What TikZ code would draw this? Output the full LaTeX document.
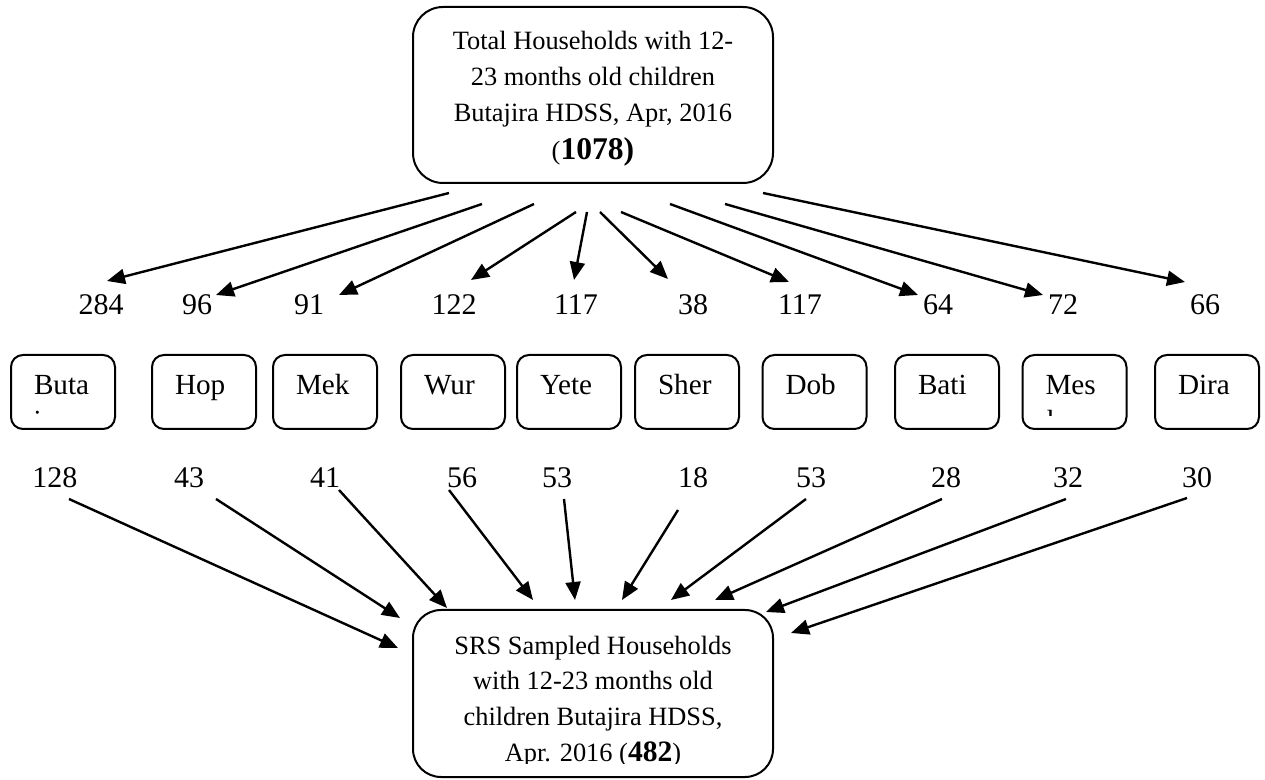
\documentclass[tikz,border=0pt]{standalone}
\usepackage{fontspec}
\setmainfont{Liberation Serif}
\usetikzlibrary{arrows.meta}

\tikzset{
  total/.style={draw, line width=1pt, rounded corners=15pt, minimum width=180pt},
  totaltext/.style={anchor=base, align=center, inner sep=0pt, font=\fontsize{13.2}{18}\selectfont},
  region/.style={draw, line width=1pt, rounded corners=6pt, minimum width=52pt, minimum height=37pt, inner xsep=11.5pt, inner ysep=0pt, text width=29pt, align=left, text height=20pt, text depth=17pt, font=\fontsize{14.6}{18}\selectfont},
  rest/.style={anchor=base west, inner sep=0pt, font=\fontsize{14.6}{18}\selectfont},
  count/.style={anchor=base, inner sep=0pt, font=\fontsize{15}{18}\selectfont},
  flow/.style={line width=1.2pt, -{Triangle[length=9pt,width=7.5pt]}}
}

\begin{document}
\begin{tikzpicture}[x=0.5pt, y=-0.5pt]
	\useasboundingbox (0,0) rectangle (1265,780);
	% total households
	\node[total, minimum height=88pt] (total) at (593,95) {};
	\node[totaltext] (totallabel) at (593,160) {Total Households with 12-\\23 months old children\\Butajira HDSS, Apr, 2016\\[1pt]({\fontsize{15.8}{18}\selectfont\bfseries 1078)}};
	% households per kebele
	\node[count] (t284) at (101,315) {284};
	\node[count] (t96) at (197,315) {96};
	\node[count] (t91) at (309,315) {91};
	\node[count] (t122) at (454,315) {122};
	\node[count] (t117a) at (576,315) {117};
	\node[count] (t38) at (693,315) {38};
	\node[count] (t117b) at (800,315) {117};
	\node[count] (t64) at (938,315) {64};
	\node[count] (t72) at (1063,315) {72};
	\node[count] (t66) at (1205,315) {66};
	% kebeles
	\node[region] (buta) at (63,392) {Buta};
	\node[region] (hop) at (204,392) {Hop};
	\node[region] (mek) at (325,392) {Mek};
	\node[region] (wur) at (453,392) {Wur};
	\node[region] (yete) at (569,392) {Yete};
	\node[region] (sher) at (687,392) {Sher};
	\node[region] (dob) at (814.5,392) {Dob};
	\node[region] (bati) at (947,392) {Bati};
	\node[region] (mes) at (1074.5,392) {Mes};
	\node[region] (dira) at (1207,392) {Dira};
	\begin{scope}
		\clip (0,0) rectangle (1265,416);
		\node[rest] (butarest) at (33,431) {j};
		\node[rest] (mesrest) at (1046.5,431) {k};
	\end{scope}
	% sampled per kebele
	\node[count] (s128) at (55,488) {128};
	\node[count] (s43) at (189,488) {43};
	\node[count] (s41) at (325,488) {41};
	\node[count] (s56) at (462,488) {56};
	\node[count] (s53a) at (557,488) {53};
	\node[count] (s18) at (693,488) {18};
	\node[count] (s53b) at (811,488) {53};
	\node[count] (s28) at (946,488) {28};
	\node[count] (s32) at (1068,488) {32};
	\node[count] (s30) at (1197,488) {30};
	% sampled households
	\node[total, minimum height=83.5pt, rounded corners=14pt] (sampled) at (593,693.5) {};
	\begin{scope}
		\clip (413,600) rectangle (773,763);
		\node[totaltext] (sampledlabel) at (593,762) {SRS Sampled Households\\with 12-23 months old\\children Butajira HDSS,\\Apr. 2016 ({\fontsize{14.8}{18}\selectfont\bfseries 482})};
	\end{scope}
	% arrow ends
	\coordinate (a284) at (449,193);  \coordinate (b284) at (107,281);
	\coordinate (a96) at (482,204);   \coordinate (b96) at (216,295);
	\coordinate (a91) at (534,204);   \coordinate (b91) at (339,295);
	\coordinate (a122) at (576,212);  \coordinate (b122) at (471,280);
	\coordinate (a117a) at (587,212); \coordinate (b117a) at (574,280);
	\coordinate (a38) at (600,212);   \coordinate (b38) at (668,279);
	\coordinate (a117b) at (621,212); \coordinate (b117b) at (789,282);
	\coordinate (a64) at (670,204);   \coordinate (b64) at (918,295);
	\coordinate (a72) at (725,204);   \coordinate (b72) at (1043,295);
	\coordinate (a66) at (763,193);   \coordinate (b66) at (1185,282);
	\coordinate (c128) at (69,499);   \coordinate (d128) at (398,648);
	\coordinate (c43) at (216,499);   \coordinate (d43) at (400,618);
	\coordinate (c41) at (339,490);   \coordinate (d41) at (447,608);
	\coordinate (c56) at (449,490);   \coordinate (d56) at (533,600);
	\coordinate (c53a) at (564,499);  \coordinate (d53a) at (575,600);
	\coordinate (c18) at (678,510);   \coordinate (d18) at (622,600);
	\coordinate (c53b) at (806,499);  \coordinate (d53b) at (671,600);
	\coordinate (c28) at (942,499);   \coordinate (d28) at (715,600);
	\coordinate (c32) at (1066,499);  \coordinate (d32) at (766,612);
	\coordinate (c30) at (1187,498);  \coordinate (d30) at (791,633);
	% arrows
	\draw[flow] (a284) -- (b284);
	\draw[flow] (a96) -- (b96);
	\draw[flow] (a91) -- (b91);
	\draw[flow] (a122) -- (b122);
	\draw[flow] (a117a) -- (b117a);
	\draw[flow] (a38) -- (b38);
	\draw[flow] (a117b) -- (b117b);
	\draw[flow] (a64) -- (b64);
	\draw[flow] (a72) -- (b72);
	\draw[flow] (a66) -- (b66);
	\draw[flow] (c128) -- (d128);
	\draw[flow] (c43) -- (d43);
	\draw[flow] (c41) -- (d41);
	\draw[flow] (c56) -- (d56);
	\draw[flow] (c53a) -- (d53a);
	\draw[flow] (c18) -- (d18);
	\draw[flow] (c53b) -- (d53b);
	\draw[flow] (c28) -- (d28);
	\draw[flow] (c32) -- (d32);
	\draw[flow] (c30) -- (d30);
\end{tikzpicture}
\end{document}
